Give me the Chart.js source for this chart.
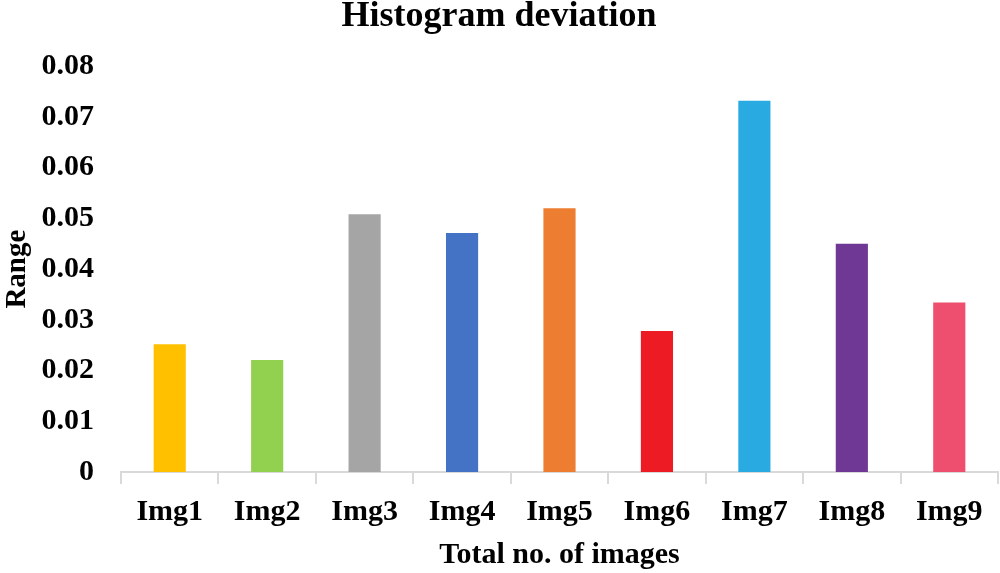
<!DOCTYPE html>
<html>
<head>
<meta charset="utf-8">
<script src="https://cdn.jsdelivr.net/npm/chart.js@4/dist/chart.umd.min.js"></script>
<style>
  html, body { margin: 0; padding: 0; background: #fff; }
  #wrap { width: 1000px; height: 573px; }
</style>
</head>
<body>
<div id="wrap"><canvas id="histChart" width="1000" height="573"></canvas></div>
<script>
// data
const labels = ['Img1', 'Img2', 'Img3', 'Img4', 'Img5', 'Img6', 'Img7', 'Img8', 'Img9'];
const deviation = [0.0252, 0.0221, 0.0508, 0.0471, 0.0520, 0.0278, 0.0732, 0.0450, 0.0334];
const barColors = ['#FFC000', '#92D050', '#A5A5A5', '#4472C4', '#ED7D31', '#ED1C24', '#29ABE2', '#6E3894', '#EF4F6E'];
const yTicks = [0, 0.01, 0.02, 0.03, 0.04, 0.05, 0.06, 0.07, 0.08];

const serif = "'Liberation Serif', 'Times New Roman', serif";

new Chart(document.getElementById('histChart'), {
    type: 'bar',
    data: {
        labels: labels,
        datasets: [{
            label: 'Range',
            data: deviation,
            backgroundColor: barColors,
            barPercentage: 0.66,
            categoryPercentage: 0.5
        }]
    },
    options: {
        responsive: false,
        animation: false,
        layout: { padding: { left: 0, right: 2, top: 0, bottom: 0 } },
        plugins: {
            legend: { display: false },
            tooltip: { enabled: false },
            title: {
                display: true,
                text: 'Histogram deviation',
                color: '#000',
                font: { family: serif, size: 36, weight: 'bold', lineHeight: 0.95 },
                padding: { top: 0, bottom: 32 }
            }
        },
        scales: {
            x: {
                afterFit: axis => { axis.height = 101; },
                grid: {
                    offset: true,
                    drawOnChartArea: false,
                    tickLength: 12,
                    color: '#D9D9D9',
                    lineWidth: 2
                },
                border: { display: true, color: '#D9D9D9', width: 2 },
                ticks: {
                    color: '#000',
                    padding: 10,
                    font: { family: serif, size: 30, weight: 'bold' }
                },
                title: {
                    display: true,
                    text: 'Total no. of images',
                    color: '#000',
                    padding: { top: 0, bottom: 0 },
                    font: { family: serif, size: 30, weight: 'bold' }
                }
            },
            y: {
                min: 0,
                max: 0.08,
                afterBuildTicks: axis => { axis.ticks = yTicks.map(v => ({ value: v })); },
                afterFit: axis => { axis.width = 121; },
                grid: { display: false, drawTicks: false },
                border: { display: false },
                ticks: {
                    color: '#000',
                    padding: 27,
                    font: { family: serif, size: 30, weight: 'bold' },
                    callback: v => v === 0 ? '0' : v.toFixed(2)
                },
                title: {
                    display: true,
                    text: 'Range',
                    color: '#000',
                    padding: { top: 0, bottom: 0 },
                    font: { family: serif, size: 29, weight: 'bold' }
                }
            }
        }
    }
});
</script>
</body>
</html>
